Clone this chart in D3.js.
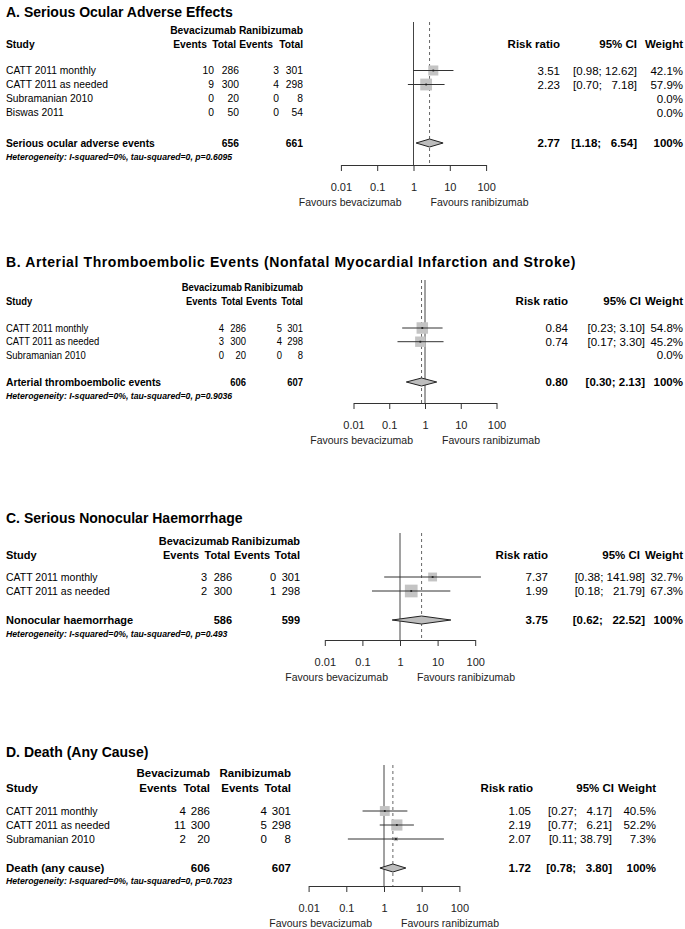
<!DOCTYPE html>
<html><head><meta charset="utf-8">
<script src="https://cdn.jsdelivr.net/npm/d3@7/dist/d3.min.js"></script>
<style>
body{margin:0;background:#fff;}
svg text{font-family:"Liberation Sans", Arial, Helvetica, sans-serif; white-space:pre;}
</style></head><body>
<svg id="chart" width="685" height="929"></svg>
<script>
// ---------- DATA ----------
const axisTicks = [0.01, 0.1, 1, 10, 100];
const axisTickLabels = ["0.01", "0.1", "1", "10", "100"];
const favourLeft = "Favours bevacizumab";
const favourRight = "Favours ranibizumab";

// Panel A
const titleA = "A. Serious Ocular Adverse Effects";
const studiesA = ["CATT 2011 monthly", "CATT 2011 as needed", "Subramanian 2010", "Biswas 2011"];
const evBevA = [10, 9, 0, 0];
const totBevA = [286, 300, 20, 50];
const evRanA = [3, 4, 0, 0];
const totRanA = [301, 298, 8, 54];
const rrA = [3.51, 2.23, null, null];
const loA = [0.98, 0.70, null, null];
const hiA = [12.62, 7.18, null, null];
const weightA = [42.1, 57.9, 0.0, 0.0];
const sumLabelA = "Serious ocular adverse events";
const sumTotA = [656, 661];
const sumA = [2.77, 1.18, 6.54];
const hetA = "Heterogeneity: I-squared=0%, tau-squared=0, p=0.6095";

// Panel B
const titleB = "B. Arterial Thromboembolic Events (Nonfatal Myocardial Infarction and Stroke)";
const studiesB = ["CATT 2011 monthly", "CATT 2011 as needed", "Subramanian 2010"];
const evBevB = [4, 3, 0];
const totBevB = [286, 300, 20];
const evRanB = [5, 4, 0];
const totRanB = [301, 298, 8];
const rrB = [0.84, 0.74, null];
const loB = [0.23, 0.17, null];
const hiB = [3.10, 3.30, null];
const weightB = [54.8, 45.2, 0.0];
const sumLabelB = "Arterial thromboembolic events";
const sumTotB = [606, 607];
const sumB = [0.80, 0.30, 2.13];
const hetB = "Heterogeneity: I-squared=0%, tau-squared=0, p=0.9036";

// Panel C
const titleC = "C. Serious Nonocular Haemorrhage";
const studiesC = ["CATT 2011 monthly", "CATT 2011 as needed"];
const evBevC = [3, 2];
const totBevC = [286, 300];
const evRanC = [0, 1];
const totRanC = [301, 298];
const rrC = [7.37, 1.99];
const loC = [0.38, 0.18];
const hiC = [141.98, 21.79];
const weightC = [32.7, 67.3];
const sumLabelC = "Nonocular haemorrhage";
const sumTotC = [586, 599];
const sumC = [3.75, 0.62, 22.52];
const hetC = "Heterogeneity: I-squared=0%, tau-squared=0, p=0.493";

// Panel D
const titleD = "D. Death (Any Cause)";
const studiesD = ["CATT 2011 monthly", "CATT 2011 as needed", "Subramanian 2010"];
const evBevD = [4, 11, 2];
const totBevD = [286, 300, 20];
const evRanD = [4, 5, 0];
const totRanD = [301, 298, 8];
const rrD = [1.05, 2.19, 2.07];
const loD = [0.27, 0.77, 0.11];
const hiD = [4.17, 6.21, 38.79];
const weightD = [40.5, 52.2, 7.3];
const sumLabelD = "Death (any cause)";
const sumTotD = [606, 607];
const sumD = [1.72, 0.78, 3.80];
const hetD = "Heterogeneity: I-squared=0%, tau-squared=0, p=0.7023";

// ---------- LAYOUT ----------
const layouts = [
  {title:12, h1:30, h2:44, row0:70.5, step:14, sum:143, het:157, axis:165, top:22,
   c:413.5, dec:36.3, fs:10.3, fl:10.3, sx:1, fsum:10.3,
   evB:214, totB:239, evR:279, totR:303, h2x:[207, 236, 273, 303], h1x:[236, 303],
   rr:560, ci:637, w:683, hRR:560, hCI:637, hW:683, tls:0},
  {title:262, h1:287, h2:301, row0:328, step:13.7, sum:382, het:396, axis:403, top:280,
   c:425, dec:35.75, fs:10.5, fl:10.5, sx:0.9, fsum:10.3,
   evB:224, totB:246, evR:282, totR:303, h2x:[217, 243, 277, 303], h1x:[242, 303],
   rr:568, ci:645, w:683, hRR:568, hCI:641, hW:683, tls:0.6},
  {title:518, h1:541, h2:555, row0:577, step:14, sum:620, het:634, axis:640, top:533,
   c:400, dec:37.6, fs:11, fl:10.5, sx:1, fsum:11,
   evB:207, totB:232, evR:276, totR:300, h2x:[199, 230, 270, 300], h1x:[229, 300],
   rr:548, ci:645, w:683, hRR:548, hCI:640, hW:683, tls:0},
  {title:752, h1:773, h2:788, row0:811, step:14, sum:868, het:881, axis:886, top:765,
   c:384, dec:37.7, fs:11.5, fl:10.5, sx:1, fsum:11.5,
   evB:186, totB:210, evR:267, totR:291, h2x:[177, 210, 259, 291], h1x:[210, 291],
   rr:531, ci:612, w:656, hRR:533, hCI:614, hW:656, tls:0}
];

const panels = [
  {title:titleA, studies:studiesA, evB:evBevA, totB:totBevA, evR:evRanA, totR:totRanA, rr:rrA, lo:loA, hi:hiA, w:weightA, sumLabel:sumLabelA, sumTot:sumTotA, sum:sumA, het:hetA},
  {title:titleB, studies:studiesB, evB:evBevB, totB:totBevB, evR:evRanB, totR:totRanB, rr:rrB, lo:loB, hi:hiB, w:weightB, sumLabel:sumLabelB, sumTot:sumTotB, sum:sumB, het:hetB},
  {title:titleC, studies:studiesC, evB:evBevC, totB:totBevC, evR:evRanC, totR:totRanC, rr:rrC, lo:loC, hi:hiC, w:weightC, sumLabel:sumLabelC, sumTot:sumTotC, sum:sumC, het:hetC},
  {title:titleD, studies:studiesD, evB:evBevD, totB:totBevD, evR:evRanD, totR:totRanD, rr:rrD, lo:loD, hi:hiD, w:weightD, sumLabel:sumLabelD, sumTot:sumTotD, sum:sumD, het:hetD}
];

const svg = d3.select("#chart");
const sq = d3.scaleSqrt().domain([0, 100]).range([0, 15.5]);

function txt(g, x, y, s, o = {}) {
  const t = g.append("text")
    .attr("dominant-baseline", "central")
    .attr("text-anchor", o.anchor || "start")
    .style("font-size", (o.size || 11) + "px")
    .style("font-weight", o.bold ? "bold" : "normal")
    .style("font-style", o.italic ? "italic" : "normal")
    .style("letter-spacing", o.ls ? o.ls + "px" : null)
    .attr("fill", o.fill || "#000")
    .text(s);
  if (o.sx && o.sx !== 1) {
    t.attr("x", 0).attr("y", 0).attr("transform", `translate(${x},${y}) scale(${o.sx},1)`);
  } else {
    t.attr("x", x).attr("y", y);
  }
  return t;
}

panels.forEach((p, k) => {
  const L = layouts[k];
  const g = svg.append("g");
  const x = d3.scaleLog().domain([0.01, 100]).range([L.c - 2 * L.dec, L.c + 2 * L.dec]);
  const fs = L.fs, fr = 11.5, sx = L.sx;

  const his = p.hi.filter(v => v != null).concat([p.sum[2]]);
  const maxLen = d3.max(his, v => v.toFixed(2).length);
  const ciStr = (lo, hi) => {
    const h = hi.toFixed(2);
    return "[" + lo.toFixed(2) + "; " + "  ".repeat(maxLen - h.length) + h + "]";
  };

  // title
  txt(g, 6, L.title, p.title, {size: 14, bold: true, ls: L.tls});

  // headers
  txt(g, L.h1x[0], L.h1, "Bevacizumab", {size: fs, bold: true, anchor: "end", sx});
  txt(g, L.h1x[1], L.h1, "Ranibizumab", {size: fs, bold: true, anchor: "end", sx});
  txt(g, 6, L.h2, "Study", {size: fs, bold: true, sx});
  ["Events", "Total", "Events", "Total"].forEach((h, j) =>
    txt(g, L.h2x[j], L.h2, h, {size: fs, bold: true, anchor: "end", sx}));
  txt(g, L.hRR, L.h2, "Risk ratio", {size: fr, bold: true, anchor: "end"});
  txt(g, L.hCI, L.h2, "95% CI", {size: fr, bold: true, anchor: "end"});
  txt(g, L.hW, L.h2, "Weight", {size: fr, bold: true, anchor: "end"});

  // reference lines
  g.append("line").attr("x1", x(1)).attr("x2", x(1)).attr("y1", L.top).attr("y2", L.axis)
    .attr("stroke", "#444").attr("stroke-width", 1);
  g.append("line").attr("x1", x(p.sum[0])).attr("x2", x(p.sum[0])).attr("y1", L.top).attr("y2", L.axis)
    .attr("stroke", "#666").attr("stroke-width", 1).attr("stroke-dasharray", "3,3");

  // study rows
  p.studies.forEach((s, i) => {
    const y = L.row0 + i * L.step;
    txt(g, 6, y, s, {size: L.fl, sx});
    txt(g, L.evB, y, String(p.evB[i]), {size: fs, anchor: "end", sx});
    txt(g, L.totB, y, String(p.totB[i]), {size: fs, anchor: "end", sx});
    txt(g, L.evR, y, String(p.evR[i]), {size: fs, anchor: "end", sx});
    txt(g, L.totR, y, String(p.totR[i]), {size: fs, anchor: "end", sx});
    if (p.rr[i] != null) {
      txt(g, L.rr, y, p.rr[i].toFixed(2), {size: fr, anchor: "end"});
      txt(g, L.ci, y, ciStr(p.lo[i], p.hi[i]), {size: fr, anchor: "end"});
      const s2 = sq(p.w[i]);
      const cx = x(p.rr[i]);
      g.append("rect").attr("x", cx - s2 / 2).attr("y", y - s2 / 2)
        .attr("width", s2).attr("height", s2).attr("fill", "#c4c4c4");
      g.append("line").attr("x1", x(p.lo[i])).attr("x2", x(p.hi[i]))
        .attr("y1", y).attr("y2", y).attr("stroke", "#333").attr("stroke-width", 1);
      g.append("rect").attr("x", cx - 0.9).attr("y", y - 0.9).attr("width", 1.8).attr("height", 1.8)
        .attr("fill", "#222");
    }
    txt(g, L.w, y, p.w[i].toFixed(1) + "%", {size: fr, anchor: "end"});
  });

  // summary
  txt(g, 6, L.sum, p.sumLabel, {size: L.fsum, bold: true});
  txt(g, L.totB, L.sum, String(p.sumTot[0]), {size: fs, bold: true, anchor: "end", sx});
  txt(g, L.totR, L.sum, String(p.sumTot[1]), {size: fs, bold: true, anchor: "end", sx});
  txt(g, L.rr, L.sum, p.sum[0].toFixed(2), {size: fr, bold: true, anchor: "end"});
  txt(g, L.ci, L.sum, ciStr(p.sum[1], p.sum[2]), {size: fr, bold: true, anchor: "end"});
  txt(g, L.w, L.sum, "100%", {size: fr, bold: true, anchor: "end"});
  const dh = 4;
  g.append("path")
    .attr("d", `M${x(p.sum[1])},${L.sum}L${x(p.sum[0])},${L.sum - dh}L${x(p.sum[2])},${L.sum}L${x(p.sum[0])},${L.sum + dh}Z`)
    .attr("fill", "#bdbdbd").attr("stroke", "#222").attr("stroke-width", 1);

  // heterogeneity
  txt(g, 6, L.het, p.het, {size: 8.7, bold: true, italic: true});

  // axis
  const ax = d3.axisBottom(x).tickValues(axisTicks)
    .tickFormat((d, i) => axisTickLabels[i]).tickSize(6).tickSizeOuter(0).tickPadding(12);
  const ag = g.append("g").attr("transform", `translate(0,${L.axis})`).call(ax);
  ag.select(".domain").attr("stroke", "#333");
  ag.selectAll(".tick line").attr("stroke", "#333");
  ag.selectAll(".tick text").attr("fill", "#222").style("font-size", "11px")
    .style("font-family", '"Liberation Sans", Arial, sans-serif');

  // favours labels
  txt(g, x(1) - 12, L.axis + 37, favourLeft, {size: 10.5, anchor: "end", fill: "#222"});
  txt(g, x(1) + 17, L.axis + 37, favourRight, {size: 10.5, fill: "#222"});
});
</script>
</body></html>
